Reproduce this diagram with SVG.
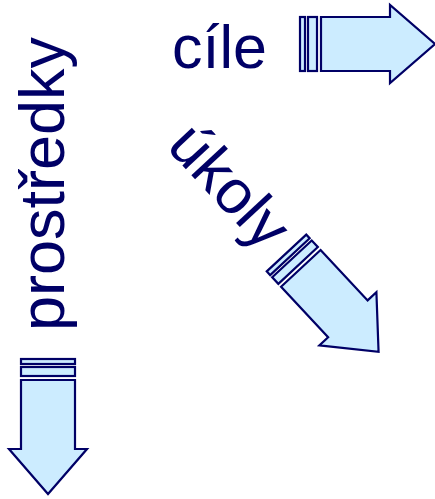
<svg xmlns="http://www.w3.org/2000/svg" width="435" height="499" viewBox="0 0 435 499">
  <style>
    .lbl { font-family: "Liberation Sans", Arial, sans-serif; fill: #000066; }
    .a { fill: #CCECFF; stroke: #000066; stroke-width: 2.2; stroke-linejoin: miter; }
  </style>
  <defs>
    <g id="arrow">
      <rect class="a" x="0" y="-27" width="5" height="54"/>
      <rect class="a" x="8" y="-27" width="9" height="54"/>
      <polygon class="a" points="21,-27 90,-27 90,-39 135,0 90,39 90,27 21,27"/>
    </g>
  </defs>
  <rect width="435" height="499" fill="#FFFFFF"/>
  <g id="cile">
    <text class="lbl" x="172" y="68" font-size="61">cíle</text>
    <use href="#arrow" transform="translate(300,44)"/>
  </g>
  <g id="ukoly">
    <text class="lbl" font-size="62" transform="translate(165,147) rotate(47)">úkoly</text>
    <use href="#arrow" transform="translate(286.5,253) rotate(47)"/>
  </g>
  <g id="prostredky">
    <text class="lbl" font-size="63" transform="translate(64,331) rotate(-90)">prostředky</text>
    <use href="#arrow" transform="translate(48,359) rotate(90)"/>
  </g>
  <g id="connectors"/>
</svg>
